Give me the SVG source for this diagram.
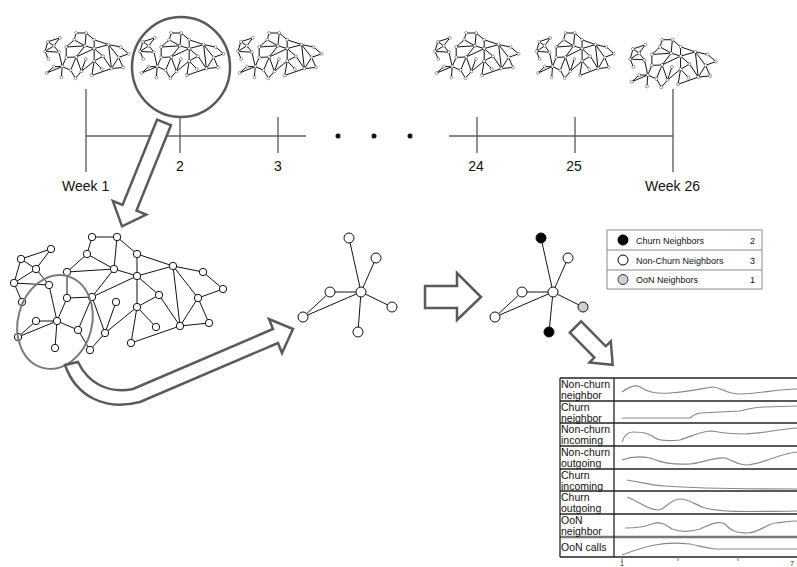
<svg xmlns="http://www.w3.org/2000/svg" xmlns:xlink="http://www.w3.org/1999/xlink" width="797" height="567" viewBox="0 0 797 567">
<style>
text{font-family:"Liberation Sans",Arial,sans-serif;fill:#111}
.tl{font-size:14px}
.edge{stroke:#111;stroke-width:1;fill:none;vector-effect:non-scaling-stroke}
.nd{fill:#fff;stroke:#111;stroke-width:1;vector-effect:non-scaling-stroke}
.arrow{fill:#fff;stroke:#5a5a5a;stroke-width:2.5;stroke-linejoin:miter}
.tick{stroke:#555;stroke-width:1.3}
.lg{font-size:9px}
.cl{font-size:10.5px}
.grid{stroke:#222;stroke-width:1.3}
.curve{fill:none;stroke:#888;stroke-width:1.2}
</style>
<defs>
<g id="net">
<path class="edge" d="M92 237L117 237M92 237L87 254M117 237L114 269M117 237L137 254M87 254L114 269M87 254L67 272M51 249L21 259M51 249L36 269M21 259L36 269M21 259L14 283M36 269L14 283M36 269L49 285M14 283L49 285M14 283L22 302M67 272L114 269M67 272L67 298M114 269L92 297M114 269L137 276M137 254L137 276M137 254L173 266M137 276L173 266M173 266L203 272M203 272L223 289M223 289L198 298M173 266L198 298M173 266L180 326M198 298L180 326M198 298L209 323M180 326L209 323M137 276L159 295M159 295L180 326M137 276L92 297M137 276L137 307M67 298L92 297M49 285L57 321M67 298L57 321M57 321L36 321M36 321L18 337M57 321L18 337M57 321L55 348M57 321L78 330M92 297L78 330M78 330L90 350M92 297L105 333M105 333L90 350M116 302L105 333M137 307L105 333M137 307L131 343M137 307L156 327M131 343L180 326M159 295L137 307"/>
<g class="nd">
<circle cx="92" cy="237" r="3.7"/><circle cx="117" cy="237" r="3.7"/><circle cx="51" cy="249" r="3.7"/><circle cx="21" cy="259" r="3.7"/><circle cx="87" cy="254" r="3.7"/><circle cx="137" cy="254" r="3.7"/><circle cx="36" cy="269" r="3.7"/><circle cx="67" cy="272" r="3.7"/><circle cx="114" cy="269" r="3.7"/><circle cx="173" cy="266" r="3.7"/><circle cx="203" cy="272" r="3.7"/><circle cx="14" cy="283" r="3.7"/><circle cx="49" cy="285" r="3.7"/><circle cx="137" cy="276" r="3.7"/><circle cx="223" cy="289" r="3.7"/><circle cx="67" cy="298" r="3.7"/><circle cx="92" cy="297" r="3.7"/><circle cx="159" cy="295" r="3.7"/><circle cx="198" cy="298" r="3.7"/><circle cx="22" cy="302" r="3.7"/><circle cx="116" cy="302" r="3.7"/><circle cx="137" cy="307" r="3.7"/><circle cx="36" cy="321" r="3.7"/><circle cx="57" cy="321" r="3.7"/><circle cx="78" cy="330" r="3.7"/><circle cx="156" cy="327" r="3.7"/><circle cx="180" cy="326" r="3.7"/><circle cx="209" cy="323" r="3.7"/><circle cx="18" cy="337" r="3.7"/><circle cx="105" cy="333" r="3.7"/><circle cx="131" cy="343" r="3.7"/><circle cx="55" cy="348" r="3.7"/><circle cx="90" cy="350" r="3.7"/>
</g>
</g>
</defs>

<!-- weekly snapshot graphs -->
<g id="week1-graph"><use xlink:href="#net" href="#net" transform="translate(39.4,-61.8) scale(0.4)"/></g>
<g id="week2-graph"><use xlink:href="#net" href="#net" transform="translate(134.4,-61.8) scale(0.4)"/></g>
<g id="week3-graph"><use xlink:href="#net" href="#net" transform="translate(232.4,-61.8) scale(0.4)"/></g>
<g id="week24-graph"><use xlink:href="#net" href="#net" transform="translate(429.4,-61.8) scale(0.4)"/></g>
<g id="week25-graph"><use xlink:href="#net" href="#net" transform="translate(531.4,-61.8) scale(0.37,0.4)"/></g>
<g id="week26-graph"><use xlink:href="#net" href="#net" transform="translate(624.4,-59.8) scale(0.41,0.42)"/></g>

<!-- timeline -->
<g id="timeline">
<line x1="86" y1="136" x2="306" y2="136" stroke="#111" stroke-width="1.2"/>
<line x1="449" y1="136" x2="673" y2="136" stroke="#111" stroke-width="1.2"/>
<line class="tick" x1="86" y1="89" x2="86" y2="172"/>
<line class="tick" x1="673" y1="89" x2="673" y2="172"/>
<line class="tick" x1="180" y1="117" x2="180" y2="153"/>
<line class="tick" x1="278" y1="117" x2="278" y2="153"/>
<line class="tick" x1="477" y1="117" x2="477" y2="153"/>
<line class="tick" x1="575" y1="117" x2="575" y2="153"/>
<circle cx="338" cy="136" r="2.5" fill="#111"/>
<circle cx="374" cy="136" r="2.5" fill="#111"/>
<circle cx="410" cy="136" r="2.5" fill="#111"/>
<text class="tl" x="62" y="191">Week 1</text>
<text class="tl" x="180" y="171" text-anchor="middle">2</text>
<text class="tl" x="278" y="171" text-anchor="middle">3</text>
<text class="tl" x="476" y="171" text-anchor="middle">24</text>
<text class="tl" x="574" y="171" text-anchor="middle">25</text>
<text class="tl" x="645" y="191">Week 26</text>
</g>

<g id="week2-highlight"><ellipse cx="181" cy="67" rx="49" ry="50" fill="none" stroke="#5a5a5a" stroke-width="2.5"/></g>

<!-- full graph -->
<g id="full-graph"><use xlink:href="#net" href="#net"/></g>
<g id="ego-highlight"><ellipse cx="55" cy="322" rx="37" ry="47.5" transform="rotate(15 55 322)" fill="none" stroke="#7a7a7a" stroke-width="2"/></g>

<!-- connectors -->
<g id="connectors">
<polygon class="arrow" transform="translate(164,122.5) rotate(112)" points="0,-7.5 92,-7.5 92,-18 112,0 92,18 92,7.5 0,7.5"/>
<path class="arrow" d="M65 365 C 76 396, 104 411, 140 402 L 278 343 L 282 353 L 293 329 L 269 319 L 273 329 L 133 389 C 108 394, 88 383, 78 362 Z"/>
<polygon class="arrow" points="425,286 457,286 457,273 481,297 457,320 457,308 425,308"/>
<polygon class="arrow" transform="translate(575.5,327) rotate(45.4)" points="0,-8 35,-8 35,-15 53,0 35,15 35,8 0,8"/>
</g>

<!-- ego network -->
<g id="ego-net">
<g class="edge"><line x1="361" y1="292" x2="349" y2="238"/><line x1="361" y1="292" x2="376" y2="258"/><line x1="361" y1="292" x2="330" y2="292"/><line x1="361" y1="292" x2="303" y2="317"/><line x1="361" y1="292" x2="392" y2="307"/><line x1="361" y1="292" x2="358" y2="332"/><line x1="330" y1="292" x2="303" y2="317"/></g>
<g class="nd"><circle cx="349" cy="238" r="5"/><circle cx="376" cy="258" r="5"/><circle cx="330" cy="292" r="5"/><circle cx="303" cy="317" r="5"/><circle cx="392" cy="307" r="5"/><circle cx="358" cy="332" r="5"/><circle cx="361" cy="292" r="5"/></g>
</g>

<!-- labelled ego network -->
<g id="labelled-net">
<g class="edge"><line x1="553" y1="292" x2="541" y2="238"/><line x1="553" y1="292" x2="568" y2="258"/><line x1="553" y1="292" x2="522" y2="292"/><line x1="553" y1="292" x2="495" y2="317"/><line x1="553" y1="292" x2="583" y2="307"/><line x1="553" y1="292" x2="549" y2="332"/><line x1="522" y1="292" x2="495" y2="317"/></g>
<g class="nd"><circle cx="541" cy="238" r="5" style="fill:#000"/><circle cx="568" cy="258" r="5"/><circle cx="522" cy="292" r="5"/><circle cx="495" cy="317" r="5"/><circle cx="583" cy="307" r="5" style="fill:#cfcfcf"/><circle cx="549" cy="332" r="5" style="fill:#000"/><circle cx="553" cy="292" r="5"/></g>
</g>

<!-- legend -->
<g id="legend">
<rect x="607" y="230" width="155" height="59" fill="#fff" stroke="#8a8a8a" stroke-width="1"/>
<line x1="607" y1="250" x2="762" y2="250" stroke="#8a8a8a"/>
<line x1="607" y1="270" x2="762" y2="270" stroke="#8a8a8a"/>
<circle cx="623" cy="240" r="5" fill="#000" stroke="#000"/>
<circle cx="623" cy="260" r="5" fill="#fff" stroke="#000"/>
<circle cx="623" cy="279.5" r="5" fill="#d0d0d0" stroke="#333"/>
<text class="lg" x="636" y="243.5">Churn Neighbors</text>
<text class="lg" x="636" y="263.5">Non-Churn Neighbors</text>
<text class="lg" x="636" y="283">OoN Neighbors</text>
<text class="lg" x="755" y="243.5" text-anchor="end">2</text>
<text class="lg" x="755" y="263.5" text-anchor="end">3</text>
<text class="lg" x="755" y="283" text-anchor="end">1</text>
</g>

<!-- time series chart -->
<g id="chart">
<line class="grid" x1="560" y1="378" x2="797" y2="378"/>
<line class="grid" x1="560" y1="401" x2="797" y2="401"/>
<line class="grid" x1="560" y1="423" x2="797" y2="423"/>
<line class="grid" x1="560" y1="446" x2="797" y2="446"/>
<line class="grid" x1="560" y1="469" x2="797" y2="469"/>
<line class="grid" x1="560" y1="491" x2="797" y2="491"/>
<line class="grid" x1="560" y1="514" x2="797" y2="514"/>
<line x1="560" y1="537" x2="797" y2="537" stroke="#777" stroke-width="2.5"/>
<line class="grid" x1="560" y1="557" x2="797" y2="557"/>
<line class="grid" x1="560" y1="378" x2="560" y2="557"/>
<line class="grid" x1="614" y1="378" x2="614" y2="557"/>
<line x1="622" y1="557" x2="622" y2="561" stroke="#777"/>
<line x1="678" y1="557" x2="678" y2="561" stroke="#777"/>
<line x1="738" y1="557" x2="738" y2="561" stroke="#777"/>
<text x="622" y="566" font-size="6.5" text-anchor="middle">1</text>
<text x="792" y="566" font-size="6.5" text-anchor="middle">7</text>
<text class="cl" x="561" y="388">Non-churn</text><text class="cl" x="561" y="399">neighbor</text>
<text class="cl" x="561" y="411">Churn</text><text class="cl" x="561" y="422">neighbor</text>
<text class="cl" x="561" y="433">Non-churn</text><text class="cl" x="561" y="444">incoming</text>
<text class="cl" x="561" y="456">Non-churn</text><text class="cl" x="561" y="467">outgoing</text>
<text class="cl" x="561" y="479">Churn</text><text class="cl" x="561" y="490">incoming</text>
<text class="cl" x="561" y="501">Churn</text><text class="cl" x="561" y="512">outgoing</text>
<text class="cl" x="561" y="524">OoN</text><text class="cl" x="561" y="535">neighbor</text>
<text class="cl" x="561" y="551">OoN calls</text>
<path class="curve" d="M622 392 C 628 388, 634 384, 640 387 C 648 392, 655 394, 670 393 C 690 392, 700 389, 712 387 C 722 387, 725 394, 740 394 C 760 394, 775 389, 797 389"/>
<path class="curve" d="M622 418 L 690 418 C 693 415, 695 414, 700 413 L 740 411 C 748 409, 755 407, 765 407 L 797 406"/>
<path class="curve" d="M622 442 C 624 436, 627 432, 633 432 C 645 432, 650 434, 655 438 C 660 441, 670 441, 680 440 C 690 437, 700 431, 712 431 C 722 433, 730 434, 745 434 C 765 433, 780 429, 797 428"/>
<path class="curve" d="M622 460 C 630 457, 640 456, 650 458 C 660 462, 670 465, 690 464 C 705 462, 715 457, 725 458 C 732 460, 737 465, 748 465 C 765 463, 775 455, 797 452"/>
<path class="curve" d="M627 480 C 640 482, 650 485, 665 486 C 690 488, 720 489, 797 489"/>
<path class="curve" d="M627 497 C 640 502, 648 510, 658 510 C 665 510, 670 499, 680 499 C 690 499, 695 505, 705 508 C 720 512, 740 512, 797 511"/>
<path class="curve" d="M625 528 C 635 528, 645 527, 652 524 C 660 521, 665 524, 672 529 C 680 532, 690 532, 700 529 C 710 525, 718 520, 725 524 C 730 530, 735 533, 748 533 C 760 532, 765 525, 775 523 C 785 522, 790 521, 797 521"/>
<path class="curve" d="M622 555 C 630 552, 640 548, 655 545 C 665 543, 680 543, 690 544 C 700 546, 705 548, 715 549 L 797 549"/>
</g>
</svg>
